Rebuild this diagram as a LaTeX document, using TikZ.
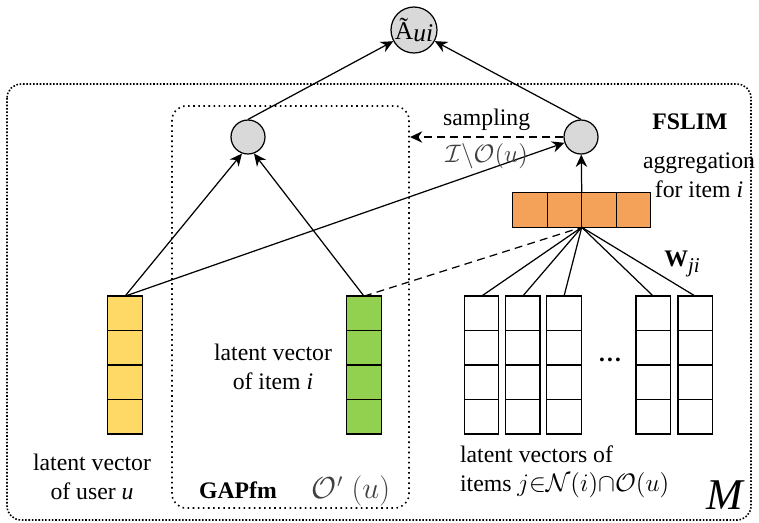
\documentclass[tikz,border=0pt]{standalone}
\usepackage{amsmath,amssymb}
\usepackage{fontspec}
\setmainfont{Liberation Serif}
\usepackage{tikz}
\usetikzlibrary{positioning, arrows.meta, shapes.geometric}

\definecolor{userfill}{HTML}{FFD966}
\definecolor{itemfill}{HTML}{92D050}
\definecolor{aggfill}{HTML}{F4A15A}
\definecolor{unitgray}{HTML}{D9D9D9}
\definecolor{mathgray}{HTML}{404040}

\begin{document}
\begin{tikzpicture}[
  x=0.02cm, y=-0.02cm,
  font=\fontsize{13.5}{16.5}\selectfont,
  cell/.style={draw, line width=0.8pt, minimum size=0.69cm, inner sep=0pt, outer sep=0pt},
  unit/.style={draw, circle, fill=unitgray, minimum size=0.68cm, inner sep=0pt, line width=0.7pt},
  outunit/.style={unit, minimum size=0.92cm, font=\fontsize{14.5}{14.5}\selectfont},
  arrow/.style={-{Stealth[length=7pt, width=6.5pt]}, line width=0.7pt},
  link/.style={line width=0.7pt},
  dashline/.style={dash pattern=on 4.5pt off 3pt},
  txt/.style={align=center, inner sep=1pt},
  group/.style={line width=0.9pt, rounded corners=8pt},
]
  \useasboundingbox (0,0) rectangle (759,522);

  % model box M and the GAPfm part inside it
  \draw[group, densely dotted] (7,84) rectangle (751,520);
  \draw[group, dotted] (172,106) rectangle (409,508);

  % prediction and the two hidden units
  \node[outunit] (out) at (414,30) {Ã\raisebox{-0.2ex}{\textit{ui}}};
  \node[unit] (gap) at (248,137) {};
  \node[unit] (fslim) at (581,137) {};

  % latent vectors: user u, item i, neighbour items j
  \foreach \name/\x/\colour in {u/125/userfill, i/364/itemfill, na/481.5/white,
      nb/522.7/white, nc/564/white, nd/653.3/white, ne/695.3/white} {
    \node[cell, fill=\colour] (\name1) at (\x,313.4) {};
    \foreach \k [count=\prev] in {2,3,4}
      \node[cell, fill=\colour, below=0pt of \name\prev] (\name\k) {};
  }

  % aggregation vector for item i
  \node[cell, fill=aggfill] (g1) at (530,210) {};
  \foreach \k [count=\prev] in {2,3,4}
    \node[cell, fill=aggfill, right=0pt of g\prev] (g\k) {};
  \coordinate (hub) at (g2.south east);
  \coordinate (sampled) at (410,137);

  % connections
  \draw[arrow] (gap.north) -- (out);
  \draw[arrow] (fslim.north) -- (out);
  \draw[arrow] (u1.north) -- (gap.250);
  \draw[arrow] (i1.north) -- (gap.290);
  \draw[arrow] (u1.north) -- (fslim);
  \draw[arrow] (g2.north east) -- (fslim);
  \draw[arrow, dashline] (fslim) -- (sampled)
    node[midway, above] {sampling}
    node[midway, below, text=mathgray] {$\mathcal{I}\backslash\mathcal{O}(u)$};
  \draw[link, dashline] (i1.north) -- (hub);
  \foreach \v in {na,nb,nc,nd,ne}
    \draw[link] (hub) -- (\v1.north);

  % labels
  \node[txt] (userlbl) at (92,477) {latent vector\\of user \textit{u}};
  \node[txt] (itemlbl) at (273,367) {latent vector\\of item \textit{i}};
  \node[txt, anchor=west, align=left] (nbrlbl) at (458,472)
    {latent vectors of\\items {\fontsize{14.5}{16.5}\selectfont$j{\in}\mathcal{N}(i){\cap}\mathcal{O}(u)$}};
  \node (gapname) at (238,490) {\textbf{GAPfm}};
  \node[text=mathgray, font=\fontsize{16}{16}\selectfont] (obs) at (351,491) {$\mathcal{O}'\;(u)$};
  \node (fslimname) at (690,122) {\textbf{FSLIM}};
  \node[txt] (agglbl) at (699,175) {aggregation\\for item \textit{i}};
  \node (weight) at (682,264) {\textbf{W}\raisebox{-0.5ex}{\fontsize{12}{12}\selectfont\textit{ji}}};
  \node (dots) at (610,360) {\textbf{…}};
  \node[font=\fontsize{25}{25}\selectfont\itshape] (model) at (725,495) {M};
\end{tikzpicture}
\end{document}
